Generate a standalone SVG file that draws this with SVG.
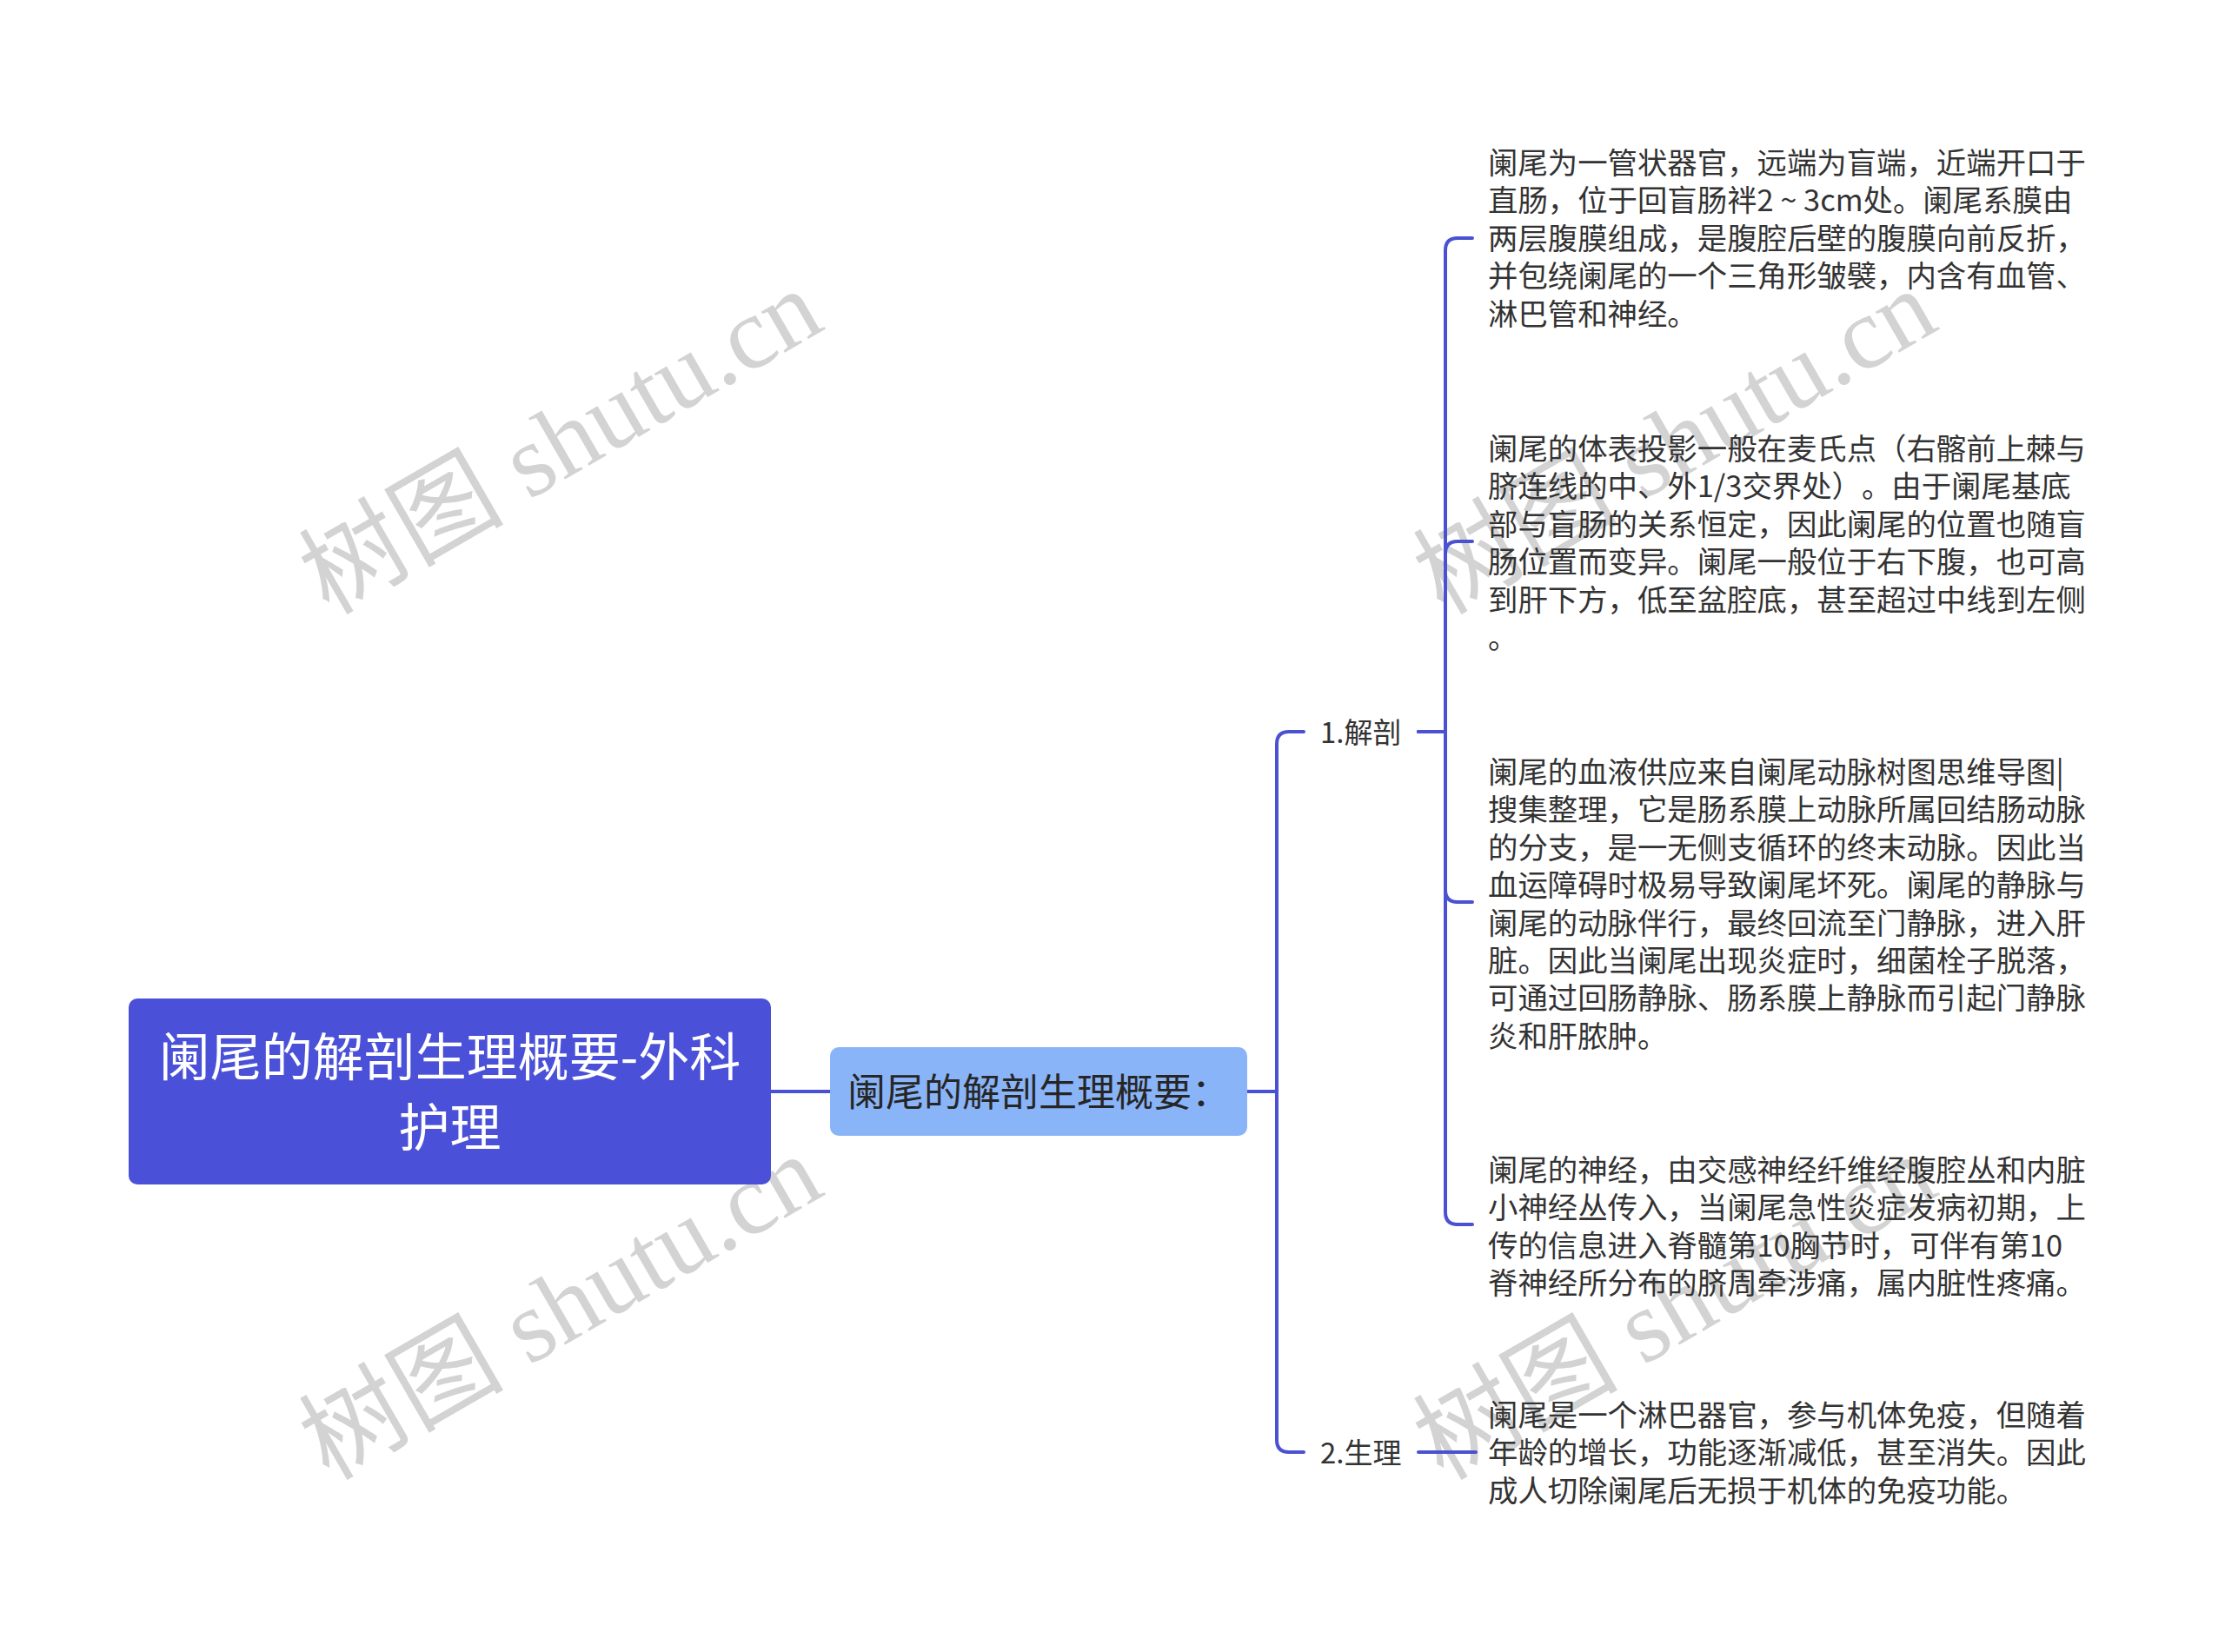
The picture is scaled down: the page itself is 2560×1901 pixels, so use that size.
<svg xmlns="http://www.w3.org/2000/svg" width="2560" height="1901" viewBox="0 0 2560 1901">
<defs>
<style>
.wm{font-family:"Liberation Serif","Noto Sans CJK SC",serif;font-size:118px;fill:#d3d3d3;}
.conn{fill:none;stroke:#4b52d1;stroke-width:4;stroke-linecap:round;stroke-linejoin:round;}
.root{fill:#4a51d8;}
.sub{fill:#8ab4f8;}
.rt{font-family:"Noto Sans CJK SC","Noto Sans",sans-serif;font-size:59px;fill:#ffffff;}
.st{font-family:"Noto Sans CJK SC","Noto Sans",sans-serif;font-size:44px;fill:#262626;}
.lt{font-family:"Noto Sans CJK SC","Noto Sans",sans-serif;font-size:33px;fill:#333333;}
.tx{font-family:"Noto Sans CJK SC","Noto Sans",sans-serif;font-size:34.4px;fill:#333333;text-spacing-trim:space-all;}
</style>
</defs>
<rect width="2560" height="1901" fill="#ffffff"/>
<g id="watermarks">
<text class="wm" text-anchor="middle" transform="translate(665,543) rotate(-30)">树图 shutu.cn</text>
<text class="wm" text-anchor="middle" transform="translate(665,1539) rotate(-30)">树图 shutu.cn</text>
<text class="wm" text-anchor="middle" transform="translate(1947,543) rotate(-30)">树图 shutu.cn</text>
<text class="wm" text-anchor="middle" transform="translate(1947,1539) rotate(-30)">树图 shutu.cn</text>
</g>
<g id="connectors">
<path class="conn" d="M887 1256 H955"/>
<path class="conn" d="M1435 1256 H1469 V856 Q1469 842 1483 842 H1500"/>
<path class="conn" d="M1435 1256 H1469 V1657 Q1469 1671 1483 1671 H1500"/>
<path class="conn" d="M1632 842 H1663 V288 Q1663 274 1677 274 H1694"/>
<path class="conn" d="M1632 842 H1663 V637 Q1663 623 1677 623 H1694"/>
<path class="conn" d="M1632 842 H1663 V1024 Q1663 1038 1677 1038 H1694"/>
<path class="conn" d="M1632 842 H1663 V1395 Q1663 1409 1677 1409 H1694"/>
<path class="conn" d="M1632 1671 H1698"/>
</g>
<g id="root">
<rect class="root" x="148" y="1149" width="739" height="214" rx="10"/>
<text class="rt" text-anchor="middle" x="517.5" y="1238">阑尾的解剖生理概要-外科</text>
<text class="rt" text-anchor="middle" x="517.5" y="1319">护理</text>
</g>
<g id="sub">
<rect class="sub" x="955" y="1205" width="480" height="102" rx="10"/>
<text class="st" x="975" y="1273">阑尾的解剖生理概要：</text>
</g>
<g id="n-jiepou">
<text class="lt" x="1519" y="855">1.解剖</text>
</g>
<g id="n-shengli">
<text class="lt" x="1519" y="1684">2.生理</text>
</g>
<g id="leaf1">
<text class="tx" x="1712" y="200">阑尾为一管状器官，远端为盲端，近端开口于</text>
<text class="tx" x="1712" y="243.4">直肠，位于回盲肠袢2 ~ 3cm处。阑尾系膜由</text>
<text class="tx" x="1712" y="286.8">两层腹膜组成，是腹腔后壁的腹膜向前反折，</text>
<text class="tx" x="1712" y="330.2">并包绕阑尾的一个三角形皱襞，内含有血管、</text>
<text class="tx" x="1712" y="373.6">淋巴管和神经。</text>
</g>
<g id="leaf2">
<text class="tx" x="1712" y="529">阑尾的体表投影一般在麦氏点（右髂前上棘与</text>
<text class="tx" x="1712" y="572.4">脐连线的中、外1/3交界处）。由于阑尾基底</text>
<text class="tx" x="1712" y="615.8">部与盲肠的关系恒定，因此阑尾的位置也随盲</text>
<text class="tx" x="1712" y="659.2">肠位置而变异。阑尾一般位于右下腹，也可高</text>
<text class="tx" x="1712" y="702.6">到肝下方，低至盆腔底，甚至超过中线到左侧</text>
<text class="tx" x="1712" y="746">。</text>
</g>
<g id="leaf3">
<text class="tx" x="1712" y="901">阑尾的血液供应来自阑尾动脉树图思维导图|</text>
<text class="tx" x="1712" y="944.4">搜集整理，它是肠系膜上动脉所属回结肠动脉</text>
<text class="tx" x="1712" y="987.8">的分支，是一无侧支循环的终末动脉。因此当</text>
<text class="tx" x="1712" y="1031.2">血运障碍时极易导致阑尾坏死。阑尾的静脉与</text>
<text class="tx" x="1712" y="1074.6">阑尾的动脉伴行，最终回流至门静脉，进入肝</text>
<text class="tx" x="1712" y="1118">脏。因此当阑尾出现炎症时，细菌栓子脱落，</text>
<text class="tx" x="1712" y="1161.4">可通过回肠静脉、肠系膜上静脉而引起门静脉</text>
<text class="tx" x="1712" y="1204.8">炎和肝脓肿。</text>
</g>
<g id="leaf4">
<text class="tx" x="1712" y="1359">阑尾的神经，由交感神经纤维经腹腔丛和内脏</text>
<text class="tx" x="1712" y="1402.4">小神经丛传入，当阑尾急性炎症发病初期，上</text>
<text class="tx" x="1712" y="1445.8">传的信息进入脊髓第10胸节时，可伴有第10</text>
<text class="tx" x="1712" y="1489.2">脊神经所分布的脐周牵涉痛，属内脏性疼痛。</text>
</g>
<g id="leaf5">
<text class="tx" x="1712" y="1641">阑尾是一个淋巴器官，参与机体免疫，但随着</text>
<text class="tx" x="1712" y="1684.4">年龄的增长，功能逐渐减低，甚至消失。因此</text>
<text class="tx" x="1712" y="1727.8">成人切除阑尾后无损于机体的免疫功能。</text>
</g>
</svg>
